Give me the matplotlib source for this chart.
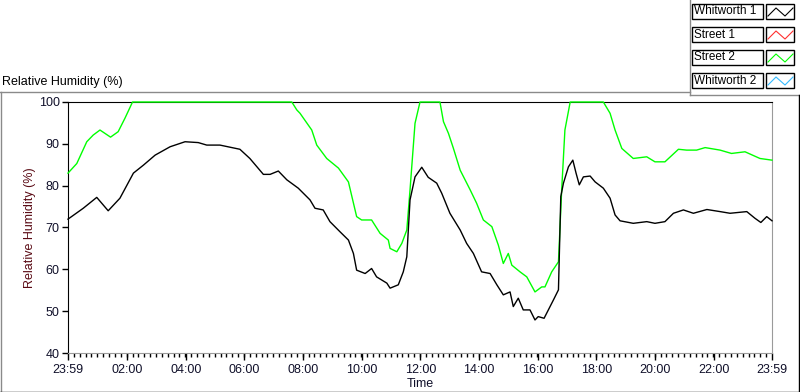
import numpy as np
import matplotlib.pyplot as plt
from matplotlib.lines import Line2D
from matplotlib.patches import Rectangle

# hours since 23:59 of the previous day
whit1_t = [0.0, 0.52, 0.98, 1.37, 1.77, 2.23, 2.57, 2.97, 3.48, 3.99, 4.44, 4.73,
           5.18, 5.86, 6.2, 6.66, 6.89, 7.17, 7.46, 7.85, 8.25, 8.42, 8.7, 8.93,
           9.27, 9.56, 9.73, 9.84, 10.13, 10.35, 10.52, 10.87, 10.98, 11.26, 11.43,
           11.55, 11.66, 11.83, 12.06, 12.28, 12.57, 12.74, 13.02, 13.37, 13.59,
           13.82, 14.1, 14.39, 14.62, 14.84, 15.07, 15.18, 15.35, 15.52, 15.75,
           15.92, 16.03, 16.23, 16.55, 16.72, 16.8, 16.89, 17.06, 17.21, 17.32,
           17.43, 17.57, 17.8, 17.97, 18.25, 18.48, 18.65, 18.82, 19.27, 19.73,
           20.01, 20.35, 20.64, 20.98, 21.32, 21.78, 22.23, 22.57, 23.14, 23.42,
           23.62, 23.82, 24.0]
whit1_v = [72.0, 74.6, 77.2, 74.0, 77.0, 83.0, 84.9, 87.3, 89.3, 90.5, 90.3, 89.7,
           89.7, 88.7, 86.5, 82.7, 82.7, 83.5, 81.4, 79.4, 76.6, 74.6, 74.2, 71.4,
           69.0, 67.0, 63.8, 59.8, 59.0, 60.2, 58.2, 56.7, 55.5, 56.3, 59.4,
           63.0, 76.6, 82.1, 84.4, 82.0, 80.6, 78.2, 73.4, 69.4, 66.2,
           63.8, 59.4, 59.0, 56.3, 53.9, 54.6, 51.1, 53.1, 50.3, 50.3,
           47.9, 48.7, 48.3, 52.7, 55.1, 77.4, 80.6, 84.5, 86.1, 83.0,
           80.2, 82.1, 82.3, 80.9, 79.4, 77.0, 73.0, 71.6, 71.0, 71.4,
           71.0, 71.4, 73.4, 74.2, 73.4, 74.3, 73.8, 73.4, 73.8, 72.2,
           71.2, 72.6, 71.6]

street2_t = [0.0, 0.3, 0.64, 0.86, 1.09, 1.45, 1.71, 1.94, 2.2, 7.63, 7.8, 7.91,
             8.31, 8.48, 8.82, 9.22, 9.56, 9.84, 10.01, 10.35, 10.64, 10.92, 10.98,
             11.21, 11.38, 11.55, 11.66, 11.83, 12.0, 12.68, 12.8, 12.97, 13.14,
             13.37, 13.71, 13.93, 14.16, 14.45, 14.67, 14.84, 15.01, 15.13, 15.41,
             15.64, 15.92, 16.15, 16.26, 16.49, 16.72, 16.83, 16.94, 17.12, 18.25,
             18.48, 18.65, 18.88, 19.27, 19.73, 20.01, 20.35, 20.81, 21.09, 21.43,
             21.72, 22.23, 22.62, 23.08, 23.59, 24.0]
street2_v = [83.0, 85.3, 90.5, 92.1, 93.3, 91.6, 92.9, 96.1, 100.0, 100.0, 98.1, 97.3,
             93.3, 89.7, 86.5, 84.2, 80.9, 72.6, 71.8, 71.8, 68.6, 67.0, 65.0,
             64.2, 66.2, 69.4, 79.0, 94.9, 100.0, 100.0, 95.3, 92.5, 88.9,
             83.7, 79.0, 75.8, 71.8, 70.2, 65.8, 61.4, 63.8, 61.0, 59.4,
             58.2, 54.6, 55.8, 55.8, 59.4, 61.8, 79.0, 93.3, 100.0, 100.0,
             97.3, 93.3, 88.9, 86.5, 86.9, 85.7, 85.7, 88.7, 88.5, 88.5,
             89.1, 88.5, 87.7, 88.1, 86.5, 86.1]

legend_names = ["Whitworth 1", "Street 1", "Street 2", "Whitworth 2"]
legend_colors = ["#000000", "#ff3030", "#00ff00", "#33bbff"]

tick_labels = ["23:59", "02:00", "04:00", "06:00", "08:00", "10:00", "12:00",
               "14:00", "16:00", "18:00", "20:00", "22:00", "23:59"]

W, H = 800, 392
plt.rcParams["font.family"] = ["Liberation Sans", "DejaVu Sans"]
fig = plt.figure(figsize=(W / 100, H / 100), dpi=100)
fig.patch.set_facecolor("white")


def fx(x):
    return x / W


def fy(y):
    return 1 - y / H


ax = fig.add_axes([fx(68), fy(353), (772 - 68) / W, (353 - 102) / H])
ax.plot(whit1_t, whit1_v, color=legend_colors[0], lw=1.0, zorder=4, clip_on=False)
ax.plot(street2_t, street2_v, color=legend_colors[2], lw=1.0, zorder=3, clip_on=False)

ax.set_xlim(0, 24)
ax.set_ylim(40, 100)
ax.set_yticks(np.arange(40, 101, 10))
ax.tick_params(axis="y", direction="out", length=4, width=1, pad=2,
               labelsize=9, labelcolor="#10102a")
off = 1 / 60
xt = [0] + [h + off for h in range(2, 24, 2)] + [24]
ax.set_xticks(xt)
ax.set_xticklabels(tick_labels)
ax.set_xticks(np.arange(0.2, 24, 0.2), minor=True)
ax.tick_params(axis="x", which="major", direction="out", length=5, width=1,
               pad=3, labelsize=9, labelcolor="#10102a")
ax.tick_params(axis="x", which="minor", direction="out", length=3, width=1)

for side in ["left", "top"]:
    ax.spines[side].set_color("black")
for side in ["right", "bottom"]:
    ax.spines[side].set_color("#9a9a9a")

ax.set_ylabel("Relative Humidity (%)", fontsize=9, color="#5a0a14")
ax.yaxis.set_label_coords((30 - 68) / 704, 0.5)
ax.yaxis.label.set_va("center")
ax.set_xlabel("Time", fontsize=9, color="#10102a")
ax.xaxis.set_label_coords(0.5, -(384 - 353) / 251)
ax.xaxis.label.set_va("center")

# graph title and frame
fig.text(fx(2), fy(82), "Relative Humidity (%)", fontsize=9, va="center",
         ha="left", color="black")
frame = [((0, 690), (92, 92), "#8a8a8a"), ((690, 690), (0, 95), "#8a8a8a"),
         ((690, 800), (95, 95), "#8a8a8a"), ((0.5, 0.5), (92, 392), "#8a8a8a"),
         ((798.5, 798.5), (95, 392), "black"), ((0, 800), (391.5, 391.5), "black")]
for xs, ys, c in frame:
    fig.add_artist(Line2D([fx(v) for v in xs], [fy(v) for v in ys],
                          color=c, lw=1, transform=fig.transFigure))

# legend boxes
for i, (name, col) in enumerate(zip(legend_names, legend_colors)):
    top = 4 + 23 * i
    fig.add_artist(Rectangle((fx(692), fy(top + 15)), 71 / W, 15 / H,
                             fill=False, ec="black", lw=1,
                             transform=fig.transFigure))
    fig.text(fx(694), fy(top + 7.5), name, fontsize=8.5, va="center", ha="left")
    fig.add_artist(Rectangle((fx(766), fy(top + 15)), 28 / W, 15 / H,
                             fill=False, ec="black", lw=1,
                             transform=fig.transFigure))
    zx = [768, 776, 785, 793]
    zy = [top + 12, top + 4, top + 12, top + 4]
    fig.add_artist(Line2D([fx(v) for v in zx], [fy(v) for v in zy],
                          color=col, lw=0.8, transform=fig.transFigure))

fig.savefig("out.png", dpi=100, facecolor="white")
